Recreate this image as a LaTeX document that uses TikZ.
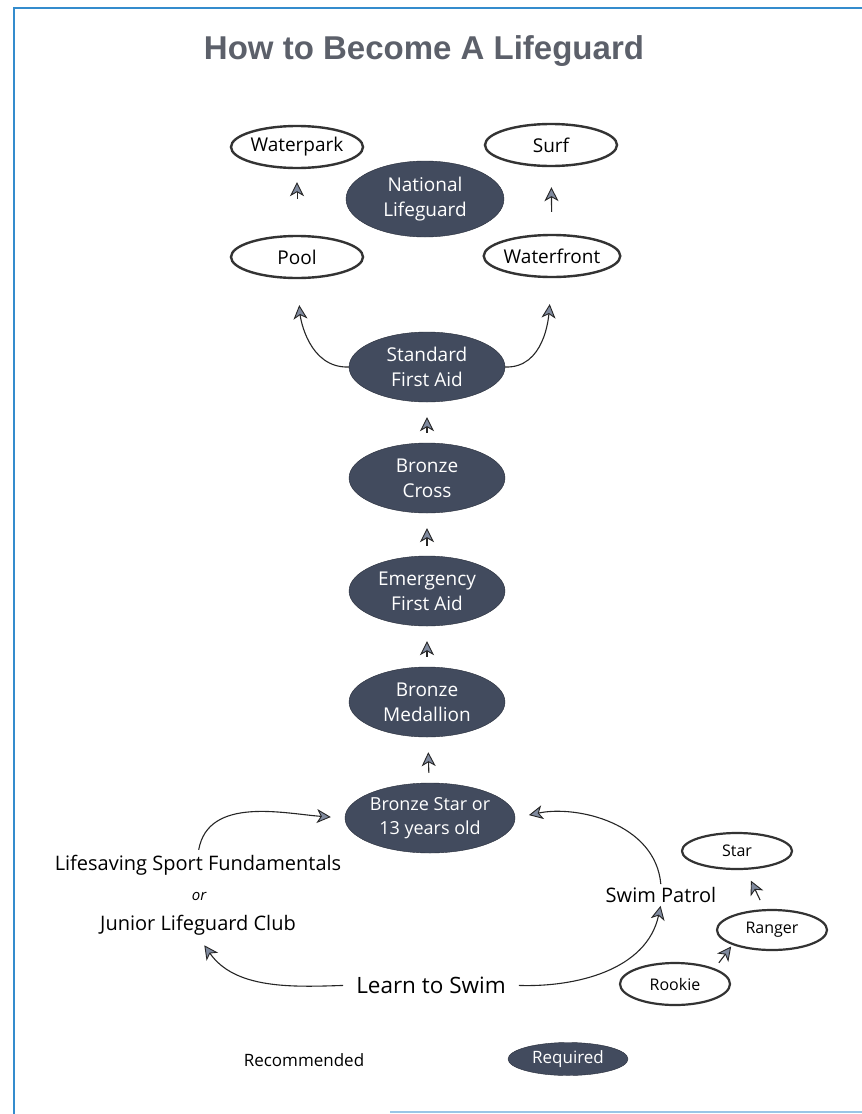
\documentclass[tikz,border=0pt]{standalone}
\usepackage{fontspec}
\setmainfont{Open Sans}
\newfontfamily\titlefont{Liberation Sans}
\usetikzlibrary{shapes.geometric}
\usetikzlibrary{arrows.meta}

\definecolor{slate}{RGB}{66,75,94}
\definecolor{slateedge}{RGB}{40,45,58}
\definecolor{tipgray}{RGB}{128,138,158}
\definecolor{frameblue}{RGB}{52,140,205}
\definecolor{titlegray}{RGB}{92,96,106}

\begin{document}
\begin{tikzpicture}[x=1pt, y=-1pt]
  \tikzstyle{required}=[ellipse, draw = slateedge, fill = slate, text = white, inner sep = 0pt,
    minimum width = 156pt, minimum height = 70pt, align = center, font = \fontsize{19}{25}\selectfont]
  \tikzstyle{optional}=[ellipse, line width = 2.4pt, draw = black!80, fill = white, inner sep = 0pt,
    minimum width = 132pt, minimum height = 42pt, font = \fontsize{19}{22}\selectfont]
  \tikzstyle{small}=[optional, line width = 2.2pt, minimum width = 110pt, minimum height = 38pt,
    font = \fontsize{16}{18}\selectfont]
  \tikzstyle{plain}=[inner sep = 1pt, align = center, font = \fontsize{20}{24}\selectfont]
  \tikzstyle{connect}=[-{Stealth[length = 14pt, width = 14pt, inset = 4pt, fill = tipgray, line width = 0.9pt]},
    line width = 1.1pt, draw = black!85]

  % page and frame
  \useasboundingbox (0,0) rectangle (862,1114);
  \draw[frameblue, line width = 2.5pt] (862,8) -- (14,8) -- (14,1114);
  \draw[frameblue!50, line width = 2pt] (390,1112) -- (862,1112);

  \node[font = \titlefont\bfseries\fontsize{33}{36}\selectfont, text = titlegray] (title) at (424,51) {How to Become A Lifeguard};

  % main path
  \foreach \pos/\name/\txt in {702/medal/{Bronze\\Medallion}, 591/efa/{Emergency\\First Aid},
      478/cross/{Bronze\\Cross}, 367/sfa/{Standard\\First Aid}}
    \node[required] (\name) at (427,\pos) {\txt};
  \node[required, font = \fontsize{18}{24}\selectfont] (bstar) at (430,818) {Bronze Star or\\13 years old};
  \node[required, minimum width = 158pt, minimum height = 76pt] (natl) at (425,199) {National\\Lifeguard};

  \foreach \a/\b in {bstar/medal, medal/efa, efa/cross, cross/sfa}
    \draw[connect, shorten <= 10pt, shorten >= 15pt] (\a) -- (\b);

  % national lifeguard streams
  \node[optional] (waterpark) at (297,147) {Waterpark};
  \node[optional] (pool) at (297,257) {Pool};
  \node[optional] (surf) at (551,145) {Surf};
  \node[optional] (waterfront) at (552,256) {Waterfront};
  \draw[connect, line width = 0.9pt, shorten <= 36pt, shorten >= 13pt] (pool) -- (waterpark);
  \draw[connect, shorten <= 22pt, shorten >= 20pt] (waterfront) -- (surf);
  \draw[connect, shorten >= 26pt] (sfa.west) to[out = 182, in = -85] (pool.south);
  \draw[connect, shorten >= 26pt] (sfa.east) to[out = -2, in = -95] (waterfront.south);

  % ways in
  \node[plain] (lsf) at (198,865) {Lifesaving Sport Fundamentals};
  \node[plain, font = \itshape\fontsize{15}{18}\selectfont] (or) at (199,896) {or};
  \node[plain] (jlc) at (198,925) {Junior Lifeguard Club};
  \node[plain] (patrol) at (661,895) {Swim Patrol};
  \node[plain, font = \fontsize{22.5}{26}\selectfont] (learn) at (431,985) {Learn to Swim};

  \draw[connect, shorten <= 4pt, shorten >= 14pt] (lsf.north) to[out = 80, in = 176] (bstar.west);
  \draw[connect, shorten <= 2pt, shorten >= 14pt] (patrol.north) to[out = 95, in = 12] (bstar.east);
  \draw[connect, shorten <= 12pt, shorten >= 11pt] (learn.west) to[out = 182, in = -55] (jlc.south);
  \draw[connect, shorten <= 12pt, shorten >= 2pt] (learn.east) to[out = -2, in = -102] (patrol.south);

  % swim patrol awards
  \node[small, minimum height = 42pt] (rookie) at (675,984) {Rookie};
  \node[small, minimum height = 40pt] (ranger) at (772,930) {Ranger};
  \node[small, minimum height = 36pt] (star) at (737,851) {Star};
  \draw[connect, shorten <= 7pt, shorten >= 2pt] (rookie.north east) -- (ranger.south west);
  \draw[connect, shorten <= 10pt, shorten >= 12pt] (ranger.110) -- (star.-65);

  % legend
  \node[plain, font = \fontsize{17}{20}\selectfont] (recommended) at (304,1060) {Recommended};
  \node[required, minimum width = 120pt, minimum height = 33pt, font = \fontsize{17}{20}\selectfont] (req) at (568,1059) {Required};
\end{tikzpicture}
\end{document}
